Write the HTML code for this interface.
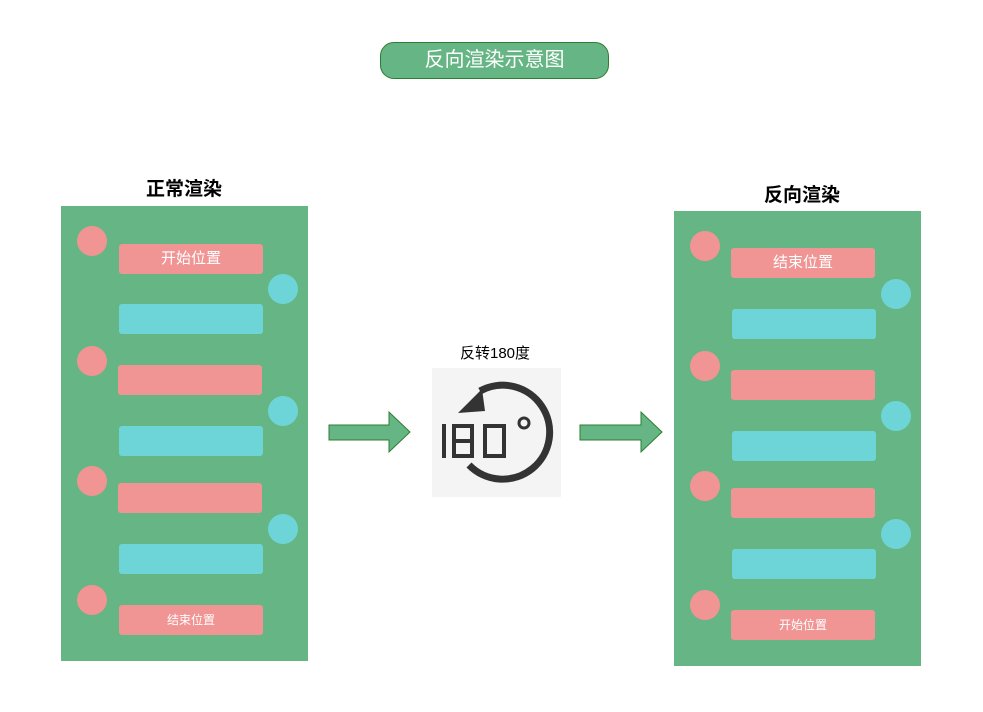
<!DOCTYPE html>
<html><head><meta charset="utf-8"><style>
body{margin:0;width:983px;height:712px;background:#fff;position:relative;overflow:hidden;font-family:"Liberation Sans","Noto Sans CJK SC",sans-serif}
div{position:absolute;box-sizing:border-box}
.p{background:#66b584}
.c{width:30px;height:30px;border-radius:50%}
.pk{background:#f09594}
.cy{background:#6dd5d8}
.r{width:144px;height:30px;border-radius:3px;color:#fff;text-align:center;line-height:30px}
.t{font-size:19px;font-weight:bold;color:#000;text-align:center}
</style></head><body>
<div style="left:380px;top:42px;width:229px;height:37px;border:1px solid #2e7d32;border-radius:14px;background:#66b584;color:#fff;font-size:20px;text-align:center;line-height:35px">反向渲染示意图</div>

<div class="t" style="left:104px;top:174px;width:160px">正常渲染</div>
<div class="t" style="left:722px;top:180px;width:160px">反向渲染</div>

<div class="p" style="left:61px;top:206px;width:247px;height:455px"></div>
<div class="c pk" style="left:77px;top:226px"></div>
<div class="c pk" style="left:77px;top:346px"></div>
<div class="c pk" style="left:77px;top:466px"></div>
<div class="c pk" style="left:77px;top:585px"></div>
<div class="c cy" style="left:268px;top:274px"></div>
<div class="c cy" style="left:268px;top:396px"></div>
<div class="c cy" style="left:268px;top:514px"></div>
<div class="r pk" style="left:119px;top:244px;font-size:15px">开始位置</div>
<div class="r pk" style="left:118px;top:365px"></div>
<div class="r pk" style="left:118px;top:483px"></div>
<div class="r pk" style="left:119px;top:605px;font-size:12px">结束位置</div>
<div class="r cy" style="left:119px;top:304px"></div>
<div class="r cy" style="left:119px;top:426px"></div>
<div class="r cy" style="left:119px;top:544px"></div>

<div class="p" style="left:674px;top:211px;width:247px;height:455px"></div>
<div class="c pk" style="left:690px;top:231px"></div>
<div class="c pk" style="left:690px;top:351px"></div>
<div class="c pk" style="left:690px;top:471px"></div>
<div class="c pk" style="left:690px;top:590px"></div>
<div class="c cy" style="left:881px;top:279px"></div>
<div class="c cy" style="left:881px;top:401px"></div>
<div class="c cy" style="left:881px;top:519px"></div>
<div class="r pk" style="left:731px;top:248px;font-size:15px">结束位置</div>
<div class="r pk" style="left:731px;top:370px"></div>
<div class="r pk" style="left:731px;top:488px"></div>
<div class="r pk" style="left:731px;top:610px;font-size:12px">开始位置</div>
<div class="r cy" style="left:732px;top:309px"></div>
<div class="r cy" style="left:732px;top:431px"></div>
<div class="r cy" style="left:732px;top:549px"></div>

<svg style="position:absolute;left:0;top:0" width="983" height="712">
<polygon points="329,425 389,425 389,412 410,432 389,452 389,440 329,440" fill="#66b584" stroke="#2e7d32" stroke-width="1"/>
<polygon points="580,425 641,425 641,412 662,432 641,452 641,440 580,440" fill="#66b584" stroke="#2e7d32" stroke-width="1"/>
</svg>

<div style="left:420px;top:342px;width:150px;text-align:center;font-size:15px;color:#000">反转180度</div>
<div style="left:432px;top:368px;width:129px;height:129px;background:#f4f4f4"></div>
<svg style="position:absolute;left:432px;top:368px" width="129" height="129" viewBox="0 0 129 129">
<path d="M48,23 A47,47 0 1 1 37,97" fill="none" stroke="#333" stroke-width="7"/>
<polygon points="26,45 50,21 53,43" fill="#333"/>
<g fill="none" stroke="#333" stroke-width="4">
<line x1="12" y1="56" x2="12" y2="90"/>
<rect x="22" y="58" width="18" height="30"/>
<line x1="22" y1="73" x2="40" y2="73"/>
<rect x="53" y="58" width="19" height="30"/>
<circle cx="92" cy="55" r="5" stroke-width="3"/>
</g>
</svg>
</body></html>
